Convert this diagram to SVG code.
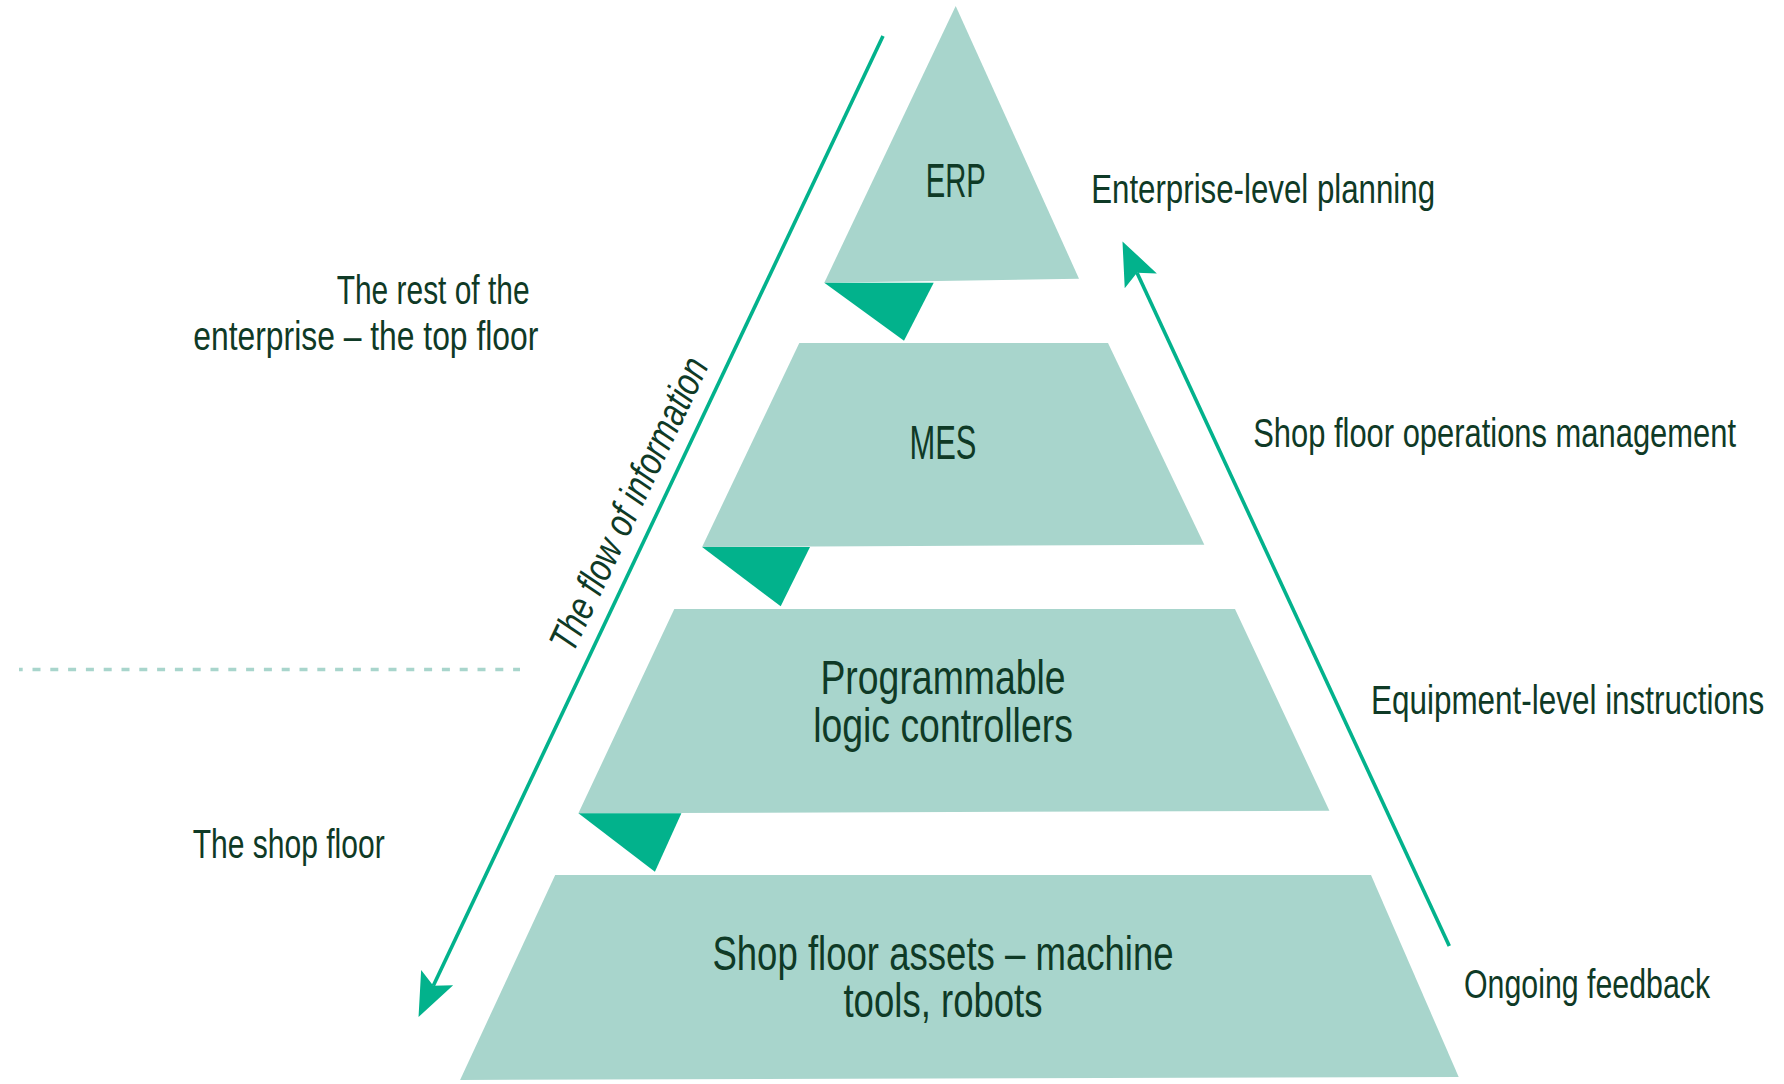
<svg xmlns="http://www.w3.org/2000/svg" width="1784" height="1084" viewBox="0 0 1784 1084">
  <style>
    .tier { fill: #a8d5cc; }
    .drop { fill: #02b28c; }
    .flow { fill: none; stroke: #02b28c; stroke-width: 3.6; }
    .divider { fill: none; stroke: #a8d5cc; stroke-width: 3.5; stroke-dasharray: 8 9.8; stroke-dashoffset: 4.3; }
    .label { font-family: "Liberation Sans", Arial, sans-serif; fill: #0f3a26; }
    .main { font-size: 49px; text-anchor: middle; }
    .side { font-size: 40px; }
    .italic { font-style: italic; text-anchor: middle; }
  </style>
  <defs>
    <marker id="head" markerUnits="userSpaceOnUse" orient="auto" viewBox="0 -18 44 36" markerWidth="44" markerHeight="36" refX="9" refY="0" overflow="visible">
      <path d="M 0 -17.7 L 43.5 0 L 0 17.7 L 9 0 Z" fill="#02b28c"/>
    </marker>
  </defs>
  <rect width="1784" height="1084" fill="#ffffff"/>

  <g id="divider">
    <line class="divider" x1="19" y1="669.5" x2="520" y2="669.5"/>
  </g>

  <g id="erp">
    <polygon class="tier" points="955.7,6 1079,278.7 824.3,282.7"/>
    <text class="label main" transform="translate(955.7 196.7) scale(0.596 1)">ERP</text>
  </g>
  <g id="mes">
    <polygon class="tier" points="799.3,343 1108,343 1204.3,544.7 702.1,547"/>
    <text class="label main" transform="translate(943 459.3) scale(0.631 1)">MES</text>
  </g>
  <g id="plc">
    <polygon class="tier" points="674.3,609 1235,609 1329.4,810.7 578.4,813.3"/>
    <text class="label main" transform="translate(943 694.3) scale(0.763 1)"><tspan x="0" y="0">Programmable</tspan><tspan x="0" y="47.4">logic controllers</tspan></text>
  </g>
  <g id="assets">
    <polygon class="tier" points="555.2,875 1371,875 1458.7,1077 460.1,1080"/>
    <text class="label main" transform="translate(943 970) scale(0.746 1)"><tspan x="0" y="0">Shop floor assets – machine</tspan><tspan x="0" y="46.7">tools, robots</tspan></text>
  </g>

  <g id="connectors">
    <polygon class="drop" points="824.3,282.7 933.7,282.7 904,340.7"/>
    <polygon class="drop" points="702.1,547 810,547 780.7,606.3"/>
    <polygon class="drop" points="578.4,813.3 681.4,813.3 654.9,871.7"/>
    <path class="flow" d="M 883 36 L 433.3 985.7" marker-end="url(#head)"/>
    <path class="flow" d="M 1449.3 946 L 1137 272.7" marker-end="url(#head)"/>
  </g>

  <g id="flow-label">
    <text class="label side italic" transform="translate(641 510) rotate(-64.7) scale(0.791 1)">The flow of information</text>
  </g>

  <g id="left-labels">
    <text class="label side" transform="translate(336.7 304) scale(0.748 1)">The rest of the</text>
    <text class="label side" transform="translate(193.3 350) scale(0.796 1)">enterprise – the top floor</text>
    <text class="label side" transform="translate(192.7 858) scale(0.751 1)">The shop floor</text>
  </g>

  <g id="right-labels">
    <text class="label side" transform="translate(1091.2 203.3) scale(0.7815 1)">Enterprise-level planning</text>
    <text class="label side" transform="translate(1253.2 446.7) scale(0.773 1)">Shop floor operations management</text>
    <text class="label side" transform="translate(1371 714.3) scale(0.786 1)">Equipment-level instructions</text>
    <text class="label side" transform="translate(1464 998.3) scale(0.758 1)">Ongoing feedback</text>
  </g>
</svg>
